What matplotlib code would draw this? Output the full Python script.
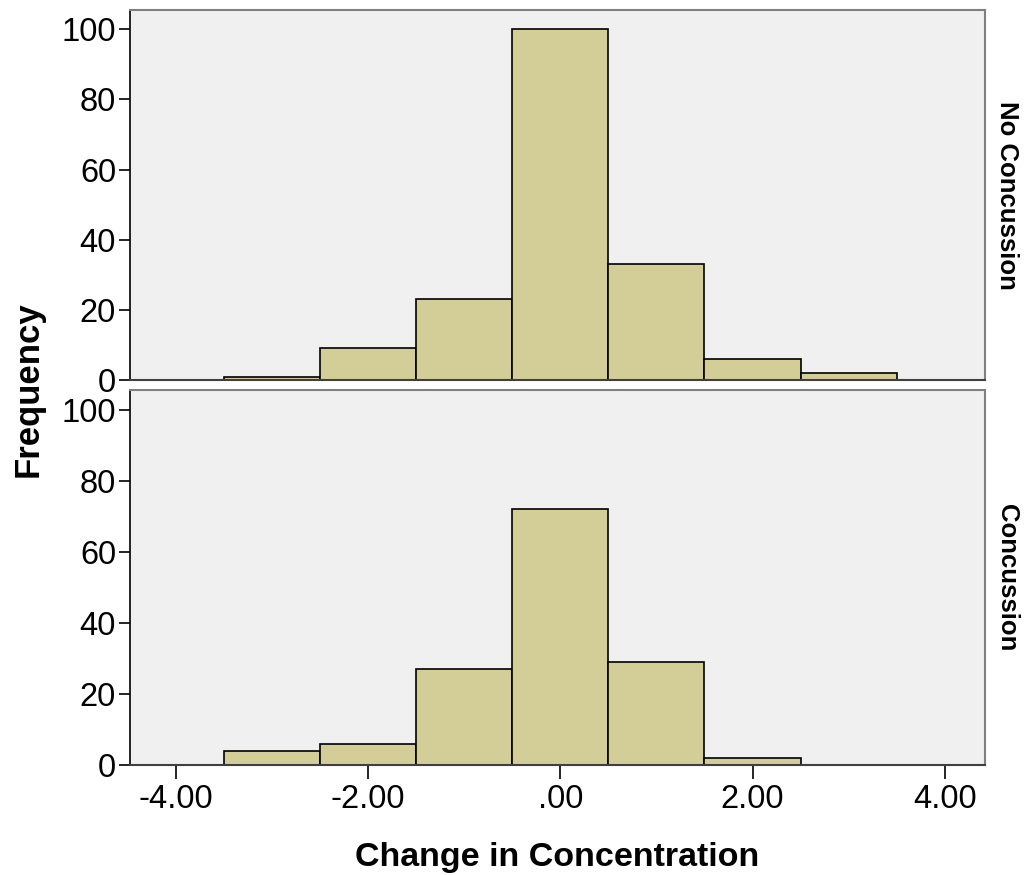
import matplotlib
matplotlib.use("Agg")
import matplotlib.pyplot as plt
import numpy as np

plt.rcParams['font.family'] = ['Liberation Sans', 'DejaVu Sans']

bin_edges = [-3.5, -2.5, -1.5, -0.5, 0.5, 1.5, 2.5, 3.5]
no_concussion = [1, 9, 23, 100, 33, 6, 2]
concussion = [4, 6, 27, 72, 29, 2, 0]
panel_labels = ["No Concussion", "Concussion"]
x_ticks = [-4, -2, 0, 2, 4]
x_tick_labels = ["-4.00", "-2.00", ".00", "2.00", "4.00"]
y_ticks = [0, 20, 40, 60, 80, 100]

bar_color = "#D3CE98"
bg_color = "#F0F0F0"

fig = plt.figure(figsize=(10.25, 8.75), dpi=100)
positions = [
    [0.1268, 0.5657, 0.8342, 0.4229],
    [0.1268, 0.1257, 0.8342, 0.4286],
]
series = [no_concussion, concussion]

for i, (pos, vals, lab) in enumerate(zip(positions, series, panel_labels)):
    ax = fig.add_axes(pos)
    ax.set_facecolor(bg_color)
    edges = np.array(bin_edges)
    widths = np.diff(edges)
    ax.bar(edges[:-1], vals, width=widths, align='edge', color=bar_color,
           edgecolor='black', linewidth=1.2, zorder=2)
    ax.set_xlim(-4.48, 4.42)
    ax.set_ylim(0, 105.5)
    ax.set_yticks(y_ticks)
    ax.tick_params(axis='y', labelsize=23.5, length=8, width=1.2, pad=2)
    for side in ['top', 'right']:
        ax.spines[side].set_color('#808080')
        ax.spines[side].set_linewidth(1.5)
    ax.spines['left'].set_color('black')
    ax.spines['left'].set_linewidth(1.2)
    ax.spines['bottom'].set_color('#404040')
    ax.spines['bottom'].set_linewidth(1.5)
    ax.text(1.012, 0.5, lab, transform=ax.transAxes, rotation=-90,
            ha='left', va='center', fontsize=18.5, fontweight='bold')
    if i == 0:
        ax.set_xticks([])
    else:
        ax.set_xticks(x_ticks)
        ax.set_xticklabels(x_tick_labels)
        ax.tick_params(axis='x', labelsize=23.5, length=10, width=1.2, pad=4)
        ax.set_xlabel("Change in Concentration", fontsize=24.5, fontweight='bold',
                      labelpad=19)

fig.text(0.027, 0.555, "Frequency", rotation=90, ha='center', va='center',
         fontsize=25, fontweight='bold')

fig.savefig("out.png", dpi=100)
